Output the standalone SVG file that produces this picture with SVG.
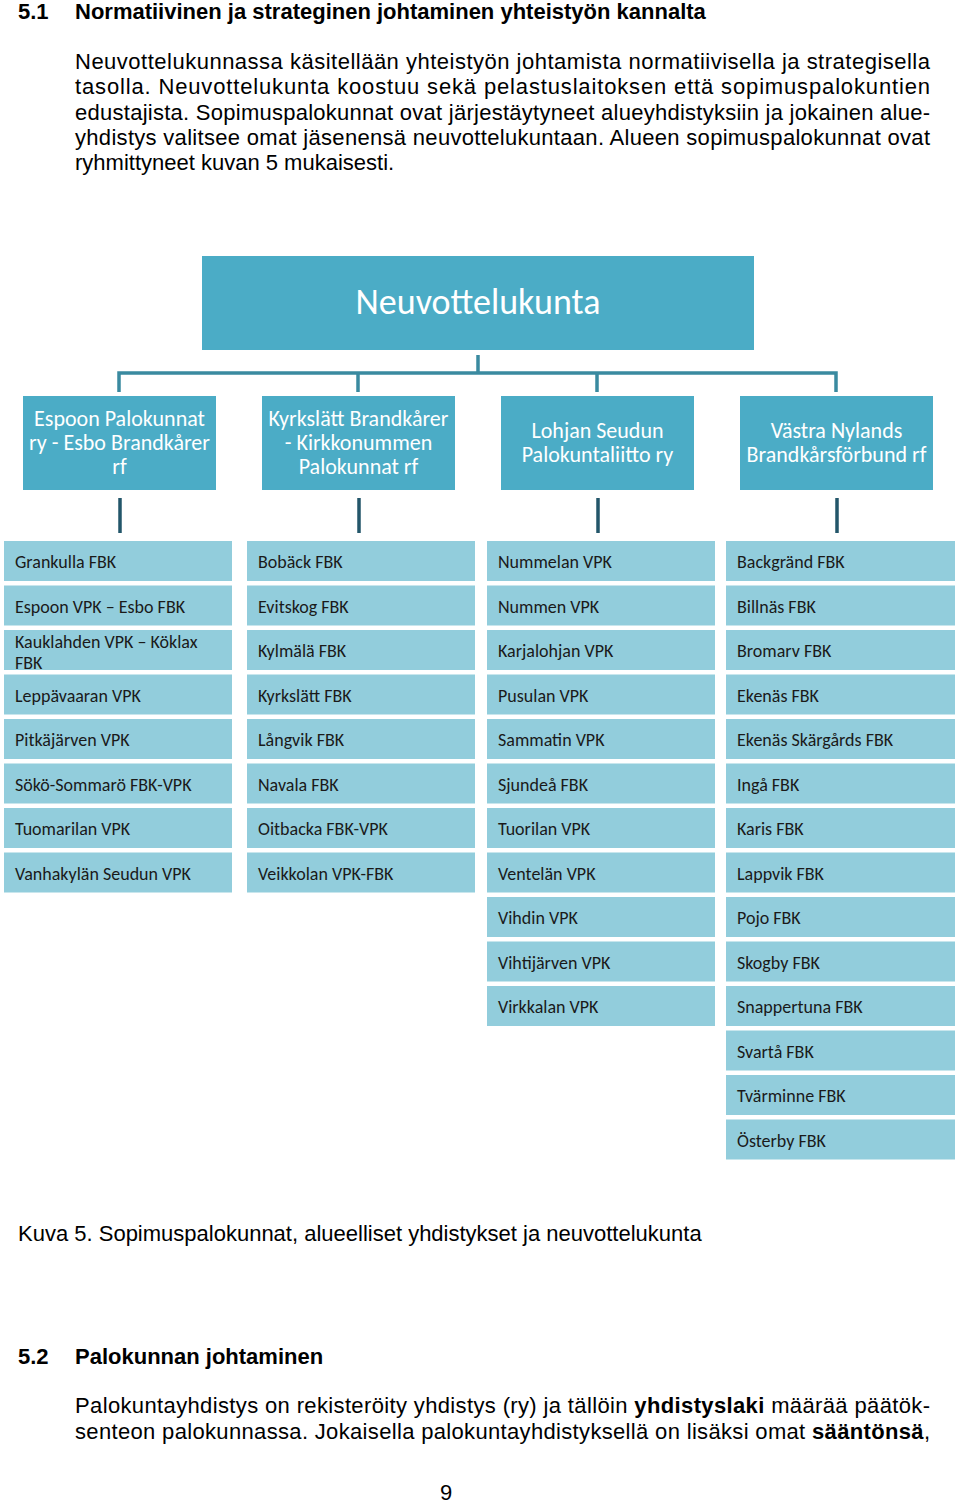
<svg xmlns="http://www.w3.org/2000/svg" width="960" height="1504" viewBox="0 0 960 1504">
<style>
.body{font-family:"Liberation Sans",Arial,sans-serif;font-size:22px;fill:#000}
.b{font-weight:bold}
.top{fill:#4bacc6}
.mid{fill:#4bacc6}
.item{fill:#92cddc}
.tw{font-family:Carlito,Lato,"Open Sans",sans-serif;fill:#fff;text-anchor:middle}
.ti{font-family:Carlito,Lato,"Open Sans",sans-serif;font-size:18px;fill:#1a1a1a}
.c1{stroke:#3a8aa0;stroke-width:3.5;fill:none}
.c2{stroke:#23566a;stroke-width:3.5;fill:none}
</style>
<rect width="960" height="1504" fill="#fff"/>
<g id="text-top">
<text class="body b" x="18" y="19">5.1</text>
<text class="body b" x="75" y="19">Normatiivinen ja strateginen johtaminen yhteistyön kannalta</text>
<text class="body" x="75" y="69" textLength="855" lengthAdjust="spacing">Neuvottelukunnassa käsitellään yhteistyön johtamista normatiivisella ja strategisella</text>
<text class="body" x="75" y="94" textLength="855" lengthAdjust="spacing">tasolla. Neuvottelukunta koostuu sekä pelastuslaitoksen että sopimuspalokuntien</text>
<text class="body" x="75" y="120" textLength="855" lengthAdjust="spacing">edustajista. Sopimuspalokunnat ovat järjestäytyneet alueyhdistyksiin ja jokainen alue-</text>
<text class="body" x="75" y="145" textLength="855" lengthAdjust="spacing">yhdistys valitsee omat jäsenensä neuvottelukuntaan. Alueen sopimuspalokunnat ovat</text>
<text class="body" x="75" y="170">ryhmittyneet kuvan 5 mukaisesti.</text>
</g>
<g id="connectors">
<path class="c1" d="M478 355 V373 M119 392 V373 H836 V392 M358 373 V392 M597 373 V392"/>
<path class="c2" d="M120 498 V533 M359 498 V533 M598 498 V533 M837 498 V533"/>
</g>
<g id="n-neuvottelukunta">
<rect class="top" x="202" y="256" width="552" height="94"/>
<text class="tw" x="478" y="314" font-size="36">Neuvottelukunta</text>
</g>
<g id="n-espoo">
<rect class="mid" x="23" y="396" width="193" height="94"/>
<text class="tw" font-size="22" x="119.5"><tspan x="119.5" y="426">Espoon Palokunnat</tspan><tspan x="119.5" y="450">ry - Esbo Brandkårer</tspan><tspan x="119.5" y="474">rf</tspan></text>
</g>
<g id="n-kyrkslatt">
<rect class="mid" x="262" y="396" width="193" height="94"/>
<text class="tw" font-size="22" x="358.5"><tspan x="358.5" y="426">Kyrkslätt Brandkårer</tspan><tspan x="358.5" y="450">- Kirkkonummen</tspan><tspan x="358.5" y="474">Palokunnat rf</tspan></text>
</g>
<g id="n-lohja">
<rect class="mid" x="501" y="396" width="193" height="94"/>
<text class="tw" font-size="22" x="597.5"><tspan x="597.5" y="438">Lohjan Seudun</tspan><tspan x="597.5" y="462">Palokuntaliitto ry</tspan></text>
</g>
<g id="n-vastra">
<rect class="mid" x="740" y="396" width="193" height="94"/>
<text class="tw" font-size="22" x="836.5"><tspan x="836.5" y="438">Västra Nylands</tspan><tspan x="836.5" y="462">Brandkårsförbund rf</tspan></text>
</g>
<g id="col1">
<g id="i-grankulla"><rect class="item" x="4" y="541" width="228" height="40"/><text class="ti" x="15" y="568">Grankulla FBK</text></g>
<g id="i-espoonvpk"><rect class="item" x="4" y="585.5" width="228" height="40"/><text class="ti" x="15" y="612.5">Espoon VPK – Esbo FBK</text></g>
<g id="i-kauklahti"><rect class="item" x="4" y="630" width="228" height="40"/><text class="ti" x="15"><tspan x="15" y="648">Kauklahden VPK – Köklax</tspan><tspan x="15" y="669">FBK</tspan></text></g>
<g id="i-leppavaara"><rect class="item" x="4" y="674.5" width="228" height="40"/><text class="ti" x="15" y="701.5">Leppävaaran VPK</text></g>
<g id="i-pitkajarvi"><rect class="item" x="4" y="719" width="228" height="40"/><text class="ti" x="15" y="746">Pitkäjärven VPK</text></g>
<g id="i-soko"><rect class="item" x="4" y="763.5" width="228" height="40"/><text class="ti" x="15" y="790.5">Sökö-Sommarö FBK-VPK</text></g>
<g id="i-tuomarila"><rect class="item" x="4" y="808" width="228" height="40"/><text class="ti" x="15" y="835">Tuomarilan VPK</text></g>
<g id="i-vanhakyla"><rect class="item" x="4" y="852.5" width="228" height="40"/><text class="ti" x="15" y="879.5">Vanhakylän Seudun VPK</text></g>
</g>
<g id="col2">
<g id="i-boback"><rect class="item" x="247" y="541" width="228" height="40"/><text class="ti" x="258" y="568">Bobäck FBK</text></g>
<g id="i-evitskog"><rect class="item" x="247" y="585.5" width="228" height="40"/><text class="ti" x="258" y="612.5">Evitskog FBK</text></g>
<g id="i-kylmala"><rect class="item" x="247" y="630" width="228" height="40"/><text class="ti" x="258" y="657">Kylmälä FBK</text></g>
<g id="i-kyrkslattfbk"><rect class="item" x="247" y="674.5" width="228" height="40"/><text class="ti" x="258" y="701.5">Kyrkslätt FBK</text></g>
<g id="i-langvik"><rect class="item" x="247" y="719" width="228" height="40"/><text class="ti" x="258" y="746">Långvik FBK</text></g>
<g id="i-navala"><rect class="item" x="247" y="763.5" width="228" height="40"/><text class="ti" x="258" y="790.5">Navala FBK</text></g>
<g id="i-oitbacka"><rect class="item" x="247" y="808" width="228" height="40"/><text class="ti" x="258" y="835">Oitbacka FBK-VPK</text></g>
<g id="i-veikkola"><rect class="item" x="247" y="852.5" width="228" height="40"/><text class="ti" x="258" y="879.5">Veikkolan VPK-FBK</text></g>
</g>
<g id="col3">
<g id="i-nummela"><rect class="item" x="487" y="541" width="228" height="40"/><text class="ti" x="498" y="568">Nummelan VPK</text></g>
<g id="i-nummi"><rect class="item" x="487" y="585.5" width="228" height="40"/><text class="ti" x="498" y="612.5">Nummen VPK</text></g>
<g id="i-karjalohja"><rect class="item" x="487" y="630" width="228" height="40"/><text class="ti" x="498" y="657">Karjalohjan VPK</text></g>
<g id="i-pusula"><rect class="item" x="487" y="674.5" width="228" height="40"/><text class="ti" x="498" y="701.5">Pusulan VPK</text></g>
<g id="i-sammatti"><rect class="item" x="487" y="719" width="228" height="40"/><text class="ti" x="498" y="746">Sammatin VPK</text></g>
<g id="i-sjundea"><rect class="item" x="487" y="763.5" width="228" height="40"/><text class="ti" x="498" y="790.5">Sjundeå FBK</text></g>
<g id="i-tuorila"><rect class="item" x="487" y="808" width="228" height="40"/><text class="ti" x="498" y="835">Tuorilan VPK</text></g>
<g id="i-ventela"><rect class="item" x="487" y="852.5" width="228" height="40"/><text class="ti" x="498" y="879.5">Ventelän VPK</text></g>
<g id="i-vihti"><rect class="item" x="487" y="897" width="228" height="40"/><text class="ti" x="498" y="924">Vihdin VPK</text></g>
<g id="i-vihtijarvi"><rect class="item" x="487" y="941.5" width="228" height="40"/><text class="ti" x="498" y="968.5">Vihtijärven VPK</text></g>
<g id="i-virkkala"><rect class="item" x="487" y="986" width="228" height="40"/><text class="ti" x="498" y="1013">Virkkalan VPK</text></g>
</g>
<g id="col4">
<g id="i-backgrand"><rect class="item" x="726" y="541" width="229" height="40"/><text class="ti" x="737" y="568">Backgränd FBK</text></g>
<g id="i-billnas"><rect class="item" x="726" y="585.5" width="229" height="40"/><text class="ti" x="737" y="612.5">Billnäs FBK</text></g>
<g id="i-bromarv"><rect class="item" x="726" y="630" width="229" height="40"/><text class="ti" x="737" y="657">Bromarv FBK</text></g>
<g id="i-ekenas"><rect class="item" x="726" y="674.5" width="229" height="40"/><text class="ti" x="737" y="701.5">Ekenäs FBK</text></g>
<g id="i-ekenasskargard"><rect class="item" x="726" y="719" width="229" height="40"/><text class="ti" x="737" y="746">Ekenäs Skärgårds FBK</text></g>
<g id="i-inga"><rect class="item" x="726" y="763.5" width="229" height="40"/><text class="ti" x="737" y="790.5">Ingå FBK</text></g>
<g id="i-karis"><rect class="item" x="726" y="808" width="229" height="40"/><text class="ti" x="737" y="835">Karis FBK</text></g>
<g id="i-lappvik"><rect class="item" x="726" y="852.5" width="229" height="40"/><text class="ti" x="737" y="879.5">Lappvik FBK</text></g>
<g id="i-pojo"><rect class="item" x="726" y="897" width="229" height="40"/><text class="ti" x="737" y="924">Pojo FBK</text></g>
<g id="i-skogby"><rect class="item" x="726" y="941.5" width="229" height="40"/><text class="ti" x="737" y="968.5">Skogby FBK</text></g>
<g id="i-snappertuna"><rect class="item" x="726" y="986" width="229" height="40"/><text class="ti" x="737" y="1013">Snappertuna FBK</text></g>
<g id="i-svarta"><rect class="item" x="726" y="1030.5" width="229" height="40"/><text class="ti" x="737" y="1057.5">Svartå FBK</text></g>
<g id="i-tvarminne"><rect class="item" x="726" y="1075" width="229" height="40"/><text class="ti" x="737" y="1102">Tvärminne FBK</text></g>
<g id="i-osterby"><rect class="item" x="726" y="1119.5" width="229" height="40"/><text class="ti" x="737" y="1146.5">Österby FBK</text></g>
</g>
<g id="text-bottom">
<text class="body" x="18" y="1241">Kuva 5. Sopimuspalokunnat, alueelliset yhdistykset ja neuvottelukunta</text>
<text class="body b" x="18" y="1364">5.2</text>
<text class="body b" x="75" y="1364">Palokunnan johtaminen</text>
<text class="body" x="75" y="1413" textLength="855" lengthAdjust="spacing">Palokuntayhdistys on rekisteröity yhdistys (ry) ja tällöin <tspan class="b">yhdistyslaki</tspan> määrää päätök-</text>
<text class="body" x="75" y="1439" textLength="855" lengthAdjust="spacing">senteon palokunnassa. Jokaisella palokuntayhdistyksellä on lisäksi omat <tspan class="b">sääntönsä</tspan>,</text>
<text class="body" x="446" y="1500" text-anchor="middle">9</text>
</g>
</svg>
